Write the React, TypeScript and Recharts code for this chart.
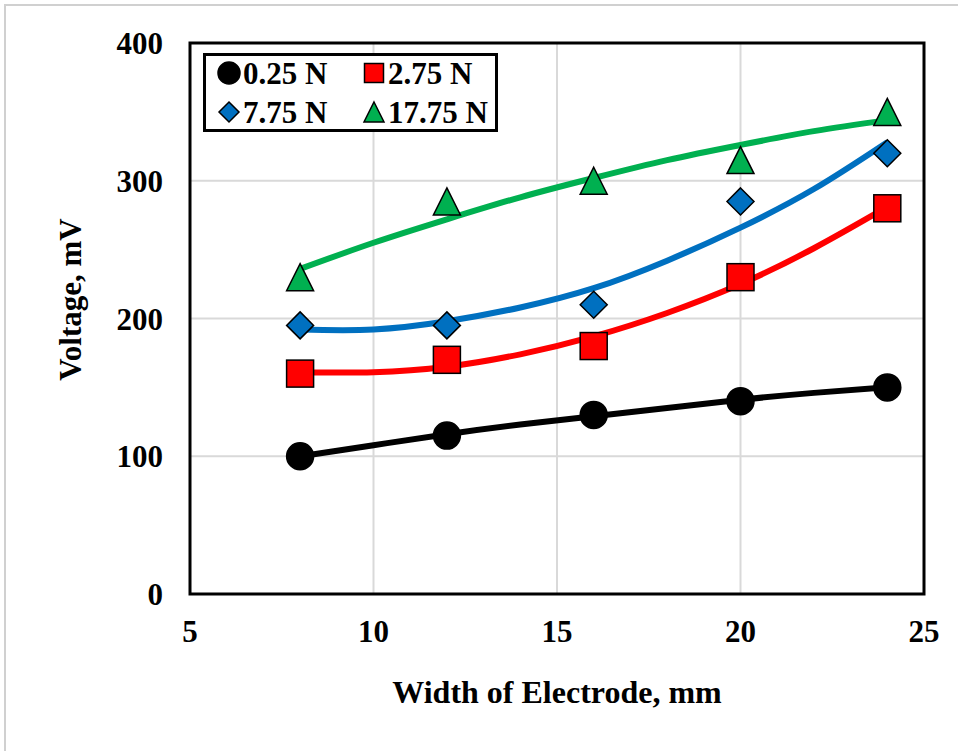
import React from "react";
import {
  ComposedChart,
  Line,
  Scatter,
  XAxis,
  YAxis,
  CartesianGrid,
  ReferenceArea,
  Legend,
} from "recharts";

// electrode widths (mm) where voltage was measured
const widths = [8, 12, 16, 20, 24];

// measured voltage, mV
const v025 = [100, 115, 130, 140, 150];
const v275 = [160, 170, 180, 230, 280];
const v775 = [195, 195, 210, 285, 320];
const v1775 = [230, 285, 300, 315, 350];

// trend lines
const trendX = [8, 10, 12, 14, 16, 18, 20, 22, 24];
const trend025 = [100, 108, 116, 123, 129, 135, 141, 146, 150];
const trend275 = [161, 161, 165, 174, 187, 204, 225, 251, 281];
const trend775 = [192, 192, 198, 208, 222, 242, 266, 294, 328];
const trend1775 = [236, 255, 272, 288, 302, 315, 326, 336, 344];

const xTicks = [5, 10, 15, 20, 25];
const yTicks = [0, 100, 200, 300, 400];

const FONT = "'Liberation Serif', 'Times New Roman', serif";
const BLACK = "#000000";
const RED = "#ff0000";
const BLUE = "#0070c0";
const GREEN = "#00b050";

const toPoints = (ys: number[]) => widths.map((x, i) => ({ x, y: ys[i] }));
const toTrend = (ys: number[]) => trendX.map((x, i) => ({ x, y: ys[i] }));

type MarkerKind = "circle" | "square" | "diamond" | "triangle";

function Marker({
  kind,
  cx,
  cy,
  size,
  fill,
}: {
  kind: MarkerKind;
  cx: number;
  cy: number;
  size: number;
  fill: string;
}) {
  const h = size / 2;
  const stroke = { stroke: "#000", strokeWidth: 1.5 };
  if (kind === "circle") return <circle cx={cx} cy={cy} r={h} fill={fill} {...stroke} />;
  if (kind === "square")
    return <rect x={cx - h} y={cy - h} width={size} height={size} fill={fill} {...stroke} />;
  if (kind === "diamond")
    return (
      <polygon
        points={`${cx},${cy - h} ${cx + h},${cy} ${cx},${cy + h} ${cx - h},${cy}`}
        fill={fill}
        {...stroke}
      />
    );
  return (
    <polygon
      points={`${cx},${cy - h} ${cx + h},${cy + h} ${cx - h},${cy + h}`}
      fill={fill}
      {...stroke}
    />
  );
}

const series = [
  { name: "0.25 N", kind: "circle" as MarkerKind, color: BLACK, pts: v025, trend: trend025 },
  { name: "2.75 N", kind: "square" as MarkerKind, color: RED, pts: v275, trend: trend275 },
  { name: "7.75 N", kind: "diamond" as MarkerKind, color: BLUE, pts: v775, trend: trend775 },
  { name: "17.75 N", kind: "triangle" as MarkerKind, color: GREEN, pts: v1775, trend: trend1775 },
];

function LegendBox() {
  const cells = [
    { s: series[0], mx: 23, ty: 17 },
    { s: series[1], mx: 168, ty: 17 },
    { s: series[2], mx: 23, ty: 56 },
    { s: series[3], mx: 168, ty: 56 },
  ];
  return (
    <div
      style={{
        width: 295,
        height: 79,
        border: "3px solid #000",
        boxSizing: "border-box",
        background: "#fff",
      }}
    >
      <svg width={289} height={73}>
        {cells.map(({ s, mx, ty }) => (
          <g key={s.name}>
            <Marker
              kind={s.kind}
              cx={mx}
              cy={ty}
              size={s.kind === "circle" ? 22 : s.kind === "square" ? 19 : 20}
              fill={s.color}
            />
            <text
              x={mx + 14}
              y={ty + 11}
              fontFamily={FONT}
              fontWeight="bold"
              fontSize={31}
              fill="#000"
            >
              {s.name}
            </text>
          </g>
        ))}
      </svg>
    </div>
  );
}

// rotated y title, a bit above the plot's middle like the original
function YTitle(props: any) {
  const vb = props.viewBox || { x: 0, y: 43, width: 190, height: 551 };
  const cx = 70;
  const cy = vb.y + vb.height / 2 - 19;
  return (
    <text
      x={cx}
      y={cy}
      transform={`rotate(-90, ${cx}, ${cy})`}
      textAnchor="middle"
      dominantBaseline="central"
      fontFamily={FONT}
      fontWeight="bold"
      fontSize={31}
      fill="#000"
    >
      Voltage, mV
    </text>
  );
}

export default function App() {
  return (
    <div
      style={{
        position: "relative",
        width: 958,
        height: 751,
        overflow: "hidden",
        background: "#fff",
      }}
    >
      <style>{"html,body{margin:0;padding:0;background:#fff;}"}</style>
      <div style={{ position: "absolute", left: 0, top: 0 }}>
        <ComposedChart
          width={958}
          height={751}
          margin={{ top: 43, right: 34, left: 0, bottom: 0 }}
        >
          <CartesianGrid stroke="#d9d9d9" strokeWidth={2} />
          <XAxis
            type="number"
            dataKey="x"
            domain={[5, 25]}
            ticks={xTicks}
            allowDataOverflow
            height={157}
            axisLine={false}
            tickLine={false}
            tickSize={0}
            tickMargin={26}
            tick={{ fill: "#000", fontSize: 31, fontWeight: "bold", fontFamily: FONT }}
            label={{
              value: "Width of Electrode, mm",
              position: "insideTop",
              offset: 86,
              fill: "#000",
              fontSize: 32,
              fontWeight: "bold",
              fontFamily: FONT,
            }}
          />
          <YAxis
            type="number"
            dataKey="y"
            domain={[0, 400]}
            ticks={yTicks}
            allowDataOverflow
            width={190}
            axisLine={false}
            tickLine={false}
            tickSize={0}
            tickMargin={27}
            tick={{ fill: "#000", fontSize: 31, fontWeight: "bold", fontFamily: FONT }}
            label={<YTitle />}
          />
          <ReferenceArea
            x1={5}
            x2={25}
            y1={0}
            y2={400}
            fill="none"
            fillOpacity={0}
            stroke="#000"
            strokeWidth={3}
          />
          {series.map((s) => (
            <Scatter
              key={`pts-${s.name}`}
              name={s.name}
              data={toPoints(s.pts)}
              dataKey="y"
              isAnimationActive={false}
              shape={(p: any) => (
                <Marker kind={s.kind} cx={p.cx} cy={p.cy} size={27} fill={s.color} />
              )}
            />
          ))}
          {series.map((s) => (
            <Line
              key={`trend-${s.name}`}
              name={`${s.name} trend`}
              data={toTrend(s.trend)}
              dataKey="y"
              type="natural"
              stroke={s.color}
              strokeWidth={6}
              dot={false}
              activeDot={false}
              legendType="none"
              isAnimationActive={false}
            />
          ))}
          <Legend
            layout="vertical"
            verticalAlign="middle"
            align="center"
            content={() => <LegendBox />}
            wrapperStyle={{ position: "absolute", left: 203, top: 53, width: 295, height: 79 }}
          />
        </ComposedChart>
      </div>
      {/* light frame of the chart area, only its top and left edges are in view */}
      <svg
        width={958}
        height={751}
        style={{ position: "absolute", left: 0, top: 0, pointerEvents: "none" }}
      >
        <path d="M5,751 V5 H958" stroke="#d0d0d0" strokeWidth={2} fill="none" />
      </svg>
    </div>
  );
}
